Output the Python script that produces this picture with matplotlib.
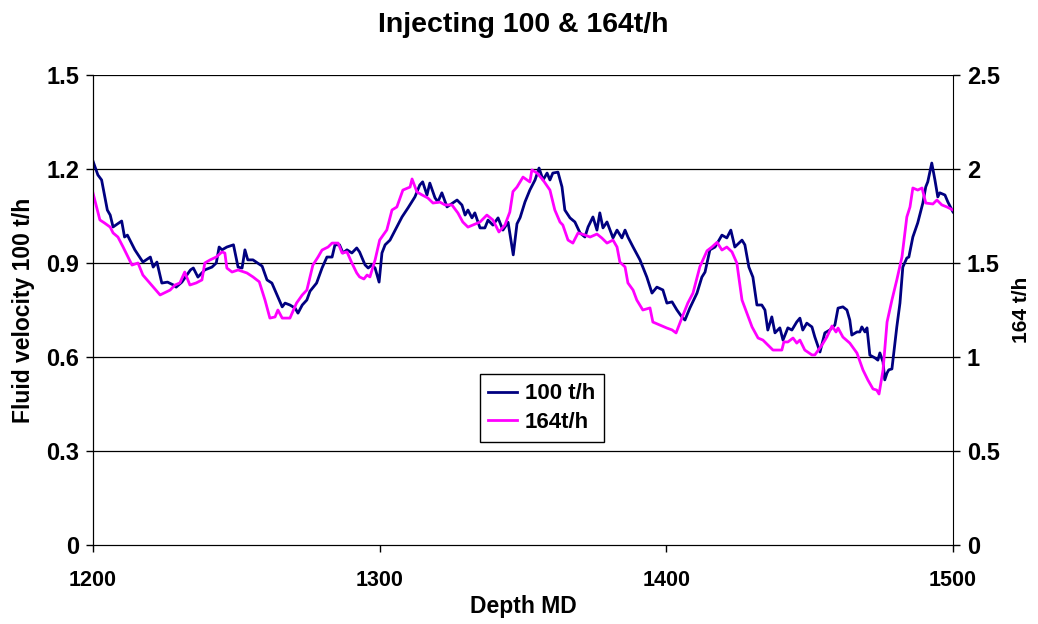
import matplotlib
matplotlib.use("Agg")
import matplotlib.pyplot as plt

plt.rcParams['font.family'] = ['Liberation Sans', 'DejaVu Sans']
plt.rcParams['font.weight'] = 'bold'

# 100 t/h series (left axis)
depth_100 = [1200, 1201.7, 1203, 1205, 1206, 1207, 1210, 1211, 1212, 1214.6, 1217.4, 1220, 1221, 1222.3, 1224, 1226,
             1228, 1229, 1231, 1234, 1235, 1236.6, 1239, 1241.5, 1243, 1244, 1245, 1246.7, 1249, 1250.6, 1252, 1253,
             1254, 1255.8, 1259, 1260.7, 1262.4, 1266, 1267, 1268.7, 1270.5, 1271.5, 1273, 1274.6, 1275.7, 1278,
             1279.9, 1281.6, 1283.4, 1284.4, 1286, 1287.2, 1288.6, 1290.3, 1292, 1293, 1294.9, 1296, 1297.3, 1298.4,
             1299.8, 1300.8, 1301.9, 1303.6, 1306, 1307.8, 1309.9, 1312.3, 1314, 1315, 1316.5, 1317.5, 1319.3, 1320.3,
             1321.7, 1323.5, 1325.6, 1327, 1328.7, 1329.8, 1330.8, 1332.2, 1333.2, 1335, 1336.7, 1337.8, 1339.5,
             1341.3, 1343, 1344.8, 1346.6, 1347.9, 1349, 1350.7, 1352.4, 1354.2, 1355.6, 1357, 1358.4, 1359.4, 1360.4,
             1362.2, 1363.6, 1364.6, 1366.4, 1368.1, 1369.9, 1371.6, 1372.7, 1374.4, 1375.8, 1376.8, 1377.9, 1379.3,
             1381.4, 1382.8, 1384.5, 1385.6, 1386.6, 1388.4, 1390.8, 1393.2, 1395, 1396.7, 1398.8, 1400.2, 1402,
             1403.7, 1405.4, 1406.5, 1408.2, 1410.7, 1412.4, 1413.5, 1415.2, 1417, 1419.4, 1421.1, 1422.5, 1423.9,
             1426.4, 1427.4, 1428.8, 1430.2, 1431.6, 1433.3, 1434.4, 1435.4, 1436.8, 1437.9, 1439.6, 1440.7, 1442.4,
             1443.8, 1445.5, 1446.6, 1447.6, 1449, 1450.8, 1451.8, 1453.6, 1455.3, 1457, 1458.8, 1459.9, 1461.6, 1463,
             1464, 1464.7, 1466.5, 1467.5, 1468.2, 1469.3, 1470, 1471, 1472.8, 1473.8, 1474.5, 1475.6, 1476.2, 1477,
             1477.6, 1478.7, 1480.4, 1481.5, 1482.5, 1483.9, 1484.6, 1486, 1487.7, 1489.5, 1490.5, 1491.2, 1492.6,
             1493.7, 1494.7, 1495.4, 1497.2, 1498.2, 1500]
vel_100 = [1.225, 1.181, 1.165, 1.069, 1.053, 1.015, 1.034, 0.983, 0.989, 0.942, 0.903, 0.919, 0.887, 0.903, 0.836,
           0.839, 0.830, 0.823, 0.839, 0.878, 0.884, 0.855, 0.878, 0.887, 0.900, 0.951, 0.942, 0.951, 0.958, 0.887,
           0.884, 0.942, 0.910, 0.910, 0.890, 0.846, 0.836, 0.760, 0.772, 0.766, 0.756, 0.740, 0.766, 0.782, 0.810,
           0.836, 0.884, 0.919, 0.919, 0.958, 0.958, 0.932, 0.942, 0.932, 0.948, 0.935, 0.894, 0.884, 0.894, 0.884,
           0.839, 0.932, 0.958, 0.973, 1.015, 1.047, 1.076, 1.111, 1.149, 1.159, 1.117, 1.155, 1.108, 1.095, 1.124,
           1.079, 1.092, 1.101, 1.085, 1.053, 1.069, 1.044, 1.060, 1.012, 1.012, 1.037, 1.021, 1.044, 1.005, 1.030,
           0.926, 1.025, 1.045, 1.095, 1.133, 1.165, 1.203, 1.165, 1.187, 1.165, 1.187, 1.190, 1.143, 1.069, 1.044,
           1.031, 0.996, 0.983, 1.015, 1.047, 1.005, 1.060, 1.012, 1.031, 0.980, 1.005, 0.980, 1.005, 0.983, 0.951,
           0.910, 0.855, 0.804, 0.823, 0.814, 0.772, 0.776, 0.750, 0.728, 0.718, 0.756, 0.804, 0.855, 0.871, 0.942,
           0.951, 0.989, 0.980, 1.005, 0.951, 0.973, 0.958, 0.887, 0.855, 0.766, 0.766, 0.750, 0.686, 0.728, 0.677,
           0.693, 0.654, 0.693, 0.686, 0.712, 0.724, 0.686, 0.708, 0.696, 0.664, 0.616, 0.677, 0.686, 0.702, 0.756,
           0.760, 0.750, 0.718, 0.670, 0.680, 0.680, 0.696, 0.680, 0.693, 0.606, 0.597, 0.590, 0.613, 0.584, 0.527,
           0.549, 0.559, 0.562, 0.696, 0.772, 0.887, 0.916, 0.919, 0.983, 1.028, 1.092, 1.143, 1.159, 1.219, 1.165,
           1.111, 1.124, 1.117, 1.095, 1.063]

# 164 t/h series (right axis)
depth_164 = [1200, 1202.4, 1204, 1206, 1207, 1208.7, 1210.5, 1213.6, 1215.7, 1217.4, 1221, 1223.4, 1226.9, 1228.6,
             1230.3, 1232, 1233.8, 1236, 1238, 1239, 1240.8, 1243, 1245, 1246, 1246.7, 1248.5, 1250.6, 1253.7, 1255.8,
             1258, 1260, 1261.7, 1263.5, 1264.5, 1266, 1268.7, 1271, 1273, 1274.6, 1276.7, 1278.5, 1279.9, 1282,
             1283.4, 1285.5, 1286.9, 1288.6, 1290.3, 1292, 1293, 1294.5, 1295.6, 1296.6, 1298.4, 1300, 1302.5, 1304.3,
             1306, 1308.1, 1310.6, 1311.3, 1313, 1314.8, 1316.8, 1318.6, 1321, 1322.8, 1325.2, 1327.3, 1329, 1330.8,
             1332.5, 1335, 1337.4, 1339.5, 1341.6, 1343.7, 1345.4, 1346.5, 1347.9, 1350, 1352.4, 1353.1, 1354.9, 1357,
             1359.4, 1361.1, 1362.9, 1363.9, 1365.7, 1367.4, 1369.2, 1371.6, 1373.4, 1375.8, 1377.5, 1379.3, 1381.4,
             1382.8, 1383.8, 1385.6, 1386.6, 1388.4, 1389.7, 1391.8, 1394.3, 1395.3, 1397.8, 1400.2, 1402, 1403.4,
             1405.4, 1407.5, 1409.3, 1411.7, 1414.2, 1415.9, 1417.7, 1419.4, 1421.1, 1422.9, 1424.6, 1426.4, 1428.1,
             1429.9, 1432, 1433.7, 1437.2, 1438.9, 1440.3, 1441, 1442.4, 1444.2, 1445.5, 1446.6, 1448.3, 1450.8,
             1451.8, 1454.3, 1456, 1457.8, 1459.2, 1459.9, 1461.6, 1464, 1466.5, 1468.6, 1470.3, 1472.1, 1473.4,
             1474.2, 1475.6, 1477, 1478.7, 1480.4, 1482.2, 1483.9, 1485, 1486, 1487.7, 1489.2, 1490.5, 1493, 1494.4,
             1496.1, 1497.9, 1500]
vel_164 = [1.872, 1.729, 1.713, 1.691, 1.660, 1.638, 1.585, 1.489, 1.500, 1.436, 1.372, 1.330, 1.356, 1.383, 1.394,
           1.452, 1.383, 1.394, 1.410, 1.500, 1.516, 1.532, 1.559, 1.553, 1.473, 1.452, 1.463, 1.447, 1.426, 1.400,
           1.303, 1.207, 1.213, 1.250, 1.207, 1.207, 1.287, 1.330, 1.356, 1.489, 1.532, 1.569, 1.585, 1.606, 1.606,
           1.553, 1.559, 1.500, 1.447, 1.426, 1.415, 1.436, 1.426, 1.516, 1.622, 1.676, 1.782, 1.798, 1.888, 1.904,
           1.947, 1.878, 1.862, 1.846, 1.819, 1.824, 1.809, 1.809, 1.766, 1.718, 1.691, 1.702, 1.718, 1.755, 1.729,
           1.665, 1.702, 1.771, 1.880, 1.904, 1.957, 1.931, 1.995, 1.979, 1.941, 1.888, 1.782, 1.718, 1.702, 1.622,
           1.606, 1.660, 1.649, 1.638, 1.654, 1.633, 1.606, 1.622, 1.585, 1.505, 1.479, 1.394, 1.356, 1.303, 1.250,
           1.261, 1.186, 1.170, 1.154, 1.144, 1.128, 1.207, 1.287, 1.340, 1.480, 1.565, 1.585, 1.610, 1.569, 1.585,
           1.559, 1.500, 1.303, 1.234, 1.160, 1.101, 1.090, 1.037, 1.037, 1.037, 1.080, 1.080, 1.101, 1.074, 1.090,
           1.037, 1.011, 1.011, 1.064, 1.106, 1.165, 1.133, 1.154, 1.106, 1.074, 1.021, 0.931, 0.878, 0.830, 0.824,
           0.803, 0.931, 1.186, 1.303, 1.410, 1.532, 1.745, 1.798, 1.899, 1.888, 1.899, 1.819, 1.814, 1.835, 1.809,
           1.798, 1.782]

fig = plt.figure(figsize=(10.38, 6.24), dpi=100)
ax = fig.add_axes([0.0896, 0.1266, 0.8285, 0.7532])
ax2 = ax.twinx()

l1, = ax.plot(depth_100, vel_100, color="#000080", lw=2.0, label="100 t/h")
l2, = ax2.plot(depth_164, vel_164, color="#FF00FF", lw=2.0, label="164t/h")

ax.set_xlim(1200, 1500)
ax.set_ylim(0, 1.5)
ax2.set_ylim(0, 2.5)
ax.set_xticks([1200, 1300, 1400, 1500])
ax.set_yticks([0, 0.3, 0.6, 0.9, 1.2, 1.5])
ax.set_yticklabels(["0", "0.3", "0.6", "0.9", "1.2", "1.5"])
ax2.set_yticks([0, 0.5, 1, 1.5, 2, 2.5])
ax2.set_yticklabels(["0", "0.5", "1", "1.5", "2", "2.5"])

for y in [0.3, 0.6, 0.9, 1.2, 1.5]:
    ax.axhline(y, color="black", lw=0.9, zorder=0)

for a in (ax, ax2):
    a.spines["top"].set_visible(False)
    a.tick_params(labelsize=17, width=1, length=5, direction="out", pad=5)
ax.spines["right"].set_visible(False)
ax.tick_params(axis="x", labelsize=15.5, pad=13)

ax.set_title("Injecting 100 & 164t/h", fontsize=20.5, fontweight="bold", pad=31)
ax.set_xlabel("Depth MD", fontsize=16.5, fontweight="bold", labelpad=3)
ax.set_ylabel("Fluid velocity 100 t/h", fontsize=16.5, fontweight="bold", labelpad=8)
ax2.set_ylabel("164 t/h", fontsize=15, fontweight="bold", labelpad=9)

leg = ax2.legend([l1, l2], ["100 t/h", "164t/h"], loc="center", bbox_to_anchor=(0.522, 0.291),
                 fontsize=16, fancybox=False, framealpha=1, edgecolor="black", handlelength=1.3,
                 handletextpad=0.35, borderpad=0.4, labelspacing=0.35, borderaxespad=0)
leg.get_frame().set_linewidth(1)

fig.savefig("out.png", dpi=100)
